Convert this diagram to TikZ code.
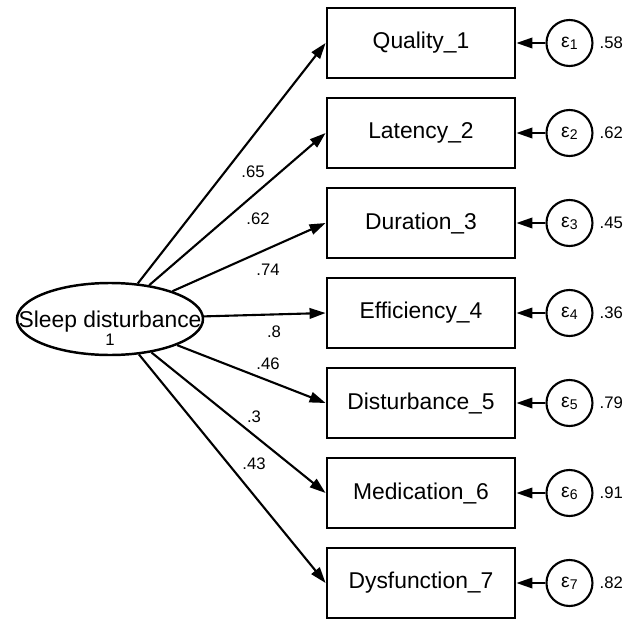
\documentclass[tikz,border=0pt]{standalone}
\usepackage{fontspec}
\setmainfont{Liberation Sans}
\usetikzlibrary{positioning, shapes.geometric, arrows.meta}

\newcommand{\errlabel}[1]{{\fontsize{11}{13}\selectfont ε}\raisebox{-1.2pt}{\fontsize{8}{9}\selectfont #1}}

\begin{document}
\begin{tikzpicture}[
		obsbox/.style={draw, line width=1.6pt, minimum width=3.76cm, minimum height=1.4cm, font=\fontsize{13}{15}\selectfont},
		errcirc/.style={draw, circle, line width=1.2pt, minimum size=0.92cm, inner sep=0pt},
		loadarrow/.style={line width=1.2pt, -{Triangle[length=0.32cm, width=0.21cm]}},
		coef/.style={font=\fontsize{9.5}{11}\selectfont, inner sep=1pt}
	]
		\useasboundingbox (0,0) rectangle (12.7,12.4);
		
		% Latent variable
		\node[draw, ellipse, line width=1.4pt, minimum width=3.72cm, minimum height=1.44cm, inner sep=0pt] (sd) at (2.2,6.02) {};
		\node[font=\fontsize{13}{15}\selectfont, inner sep=0pt] (sdname) at (2.2,5.96) {Sleep disturbance};
		\node[coef] (sdvar) at (2.2,5.6) {1};
		
		% Observed items
		\node[obsbox] (q1) at (8.42,11.54) {Quality\_1};
		\node[obsbox] (q2) at (8.42,9.74) {Latency\_2};
		\node[obsbox] (q3) at (8.42,7.94) {Duration\_3};
		\node[obsbox] (q4) at (8.42,6.14) {Efficiency\_4};
		\node[obsbox] (q5) at (8.42,4.34) {Disturbance\_5};
		\node[obsbox] (q6) at (8.42,2.54) {Medication\_6};
		\node[obsbox] (q7) at (8.42,0.74) {Dysfunction\_7};
		
		% Error terms
		\node[errcirc, right=0.58cm of q1] (e1) {\errlabel{1}};
		\node[errcirc, right=0.58cm of q2] (e2) {\errlabel{2}};
		\node[errcirc, right=0.58cm of q3] (e3) {\errlabel{3}};
		\node[errcirc, right=0.58cm of q4] (e4) {\errlabel{4}};
		\node[errcirc, right=0.58cm of q5] (e5) {\errlabel{5}};
		\node[errcirc, right=0.58cm of q6] (e6) {\errlabel{6}};
		\node[errcirc, right=0.58cm of q7] (e7) {\errlabel{7}};
		
		% Error variances
		\node[coef, right=0.08cm of e1] (v1) {.58};
		\node[coef, right=0.08cm of e2] (v2) {.62};
		\node[coef, right=0.08cm of e3] (v3) {.45};
		\node[coef, right=0.08cm of e4] (v4) {.36};
		\node[coef, right=0.08cm of e5] (v5) {.79};
		\node[coef, right=0.08cm of e6] (v6) {.91};
		\node[coef, right=0.08cm of e7] (v7) {.82};
		
		% Loadings
		\draw[loadarrow] (sd) -- (q1.west);
		\draw[loadarrow] (sd) -- (q2.west);
		\draw[loadarrow] (sd) -- (q3.west);
		\draw[loadarrow] (sd) -- (q4.west);
		\draw[loadarrow] (sd) -- (q5.west);
		\draw[loadarrow] (sd) -- (q6.west);
		\draw[loadarrow] (sd) -- (q7.west);
		
		\node[coef] (l1) at (5.06,8.96) {.65};
		\node[coef] (l2) at (5.16,8.02) {.62};
		\node[coef] (l3) at (5.36,7.00) {.74};
		\node[coef] (l4) at (5.48,5.76) {.8};
		\node[coef] (l5) at (5.36,5.12) {.46};
		\node[coef] (l6) at (5.08,4.06) {.3};
		\node[coef] (l7) at (5.08,3.12) {.43};
		
		% Error paths
		\draw[loadarrow] (e1) -- (q1.east);
		\draw[loadarrow] (e2) -- (q2.east);
		\draw[loadarrow] (e3) -- (q3.east);
		\draw[loadarrow] (e4) -- (q4.east);
		\draw[loadarrow] (e5) -- (q5.east);
		\draw[loadarrow] (e6) -- (q6.east);
		\draw[loadarrow] (e7) -- (q7.east);
		
	\end{tikzpicture}
\end{document}
